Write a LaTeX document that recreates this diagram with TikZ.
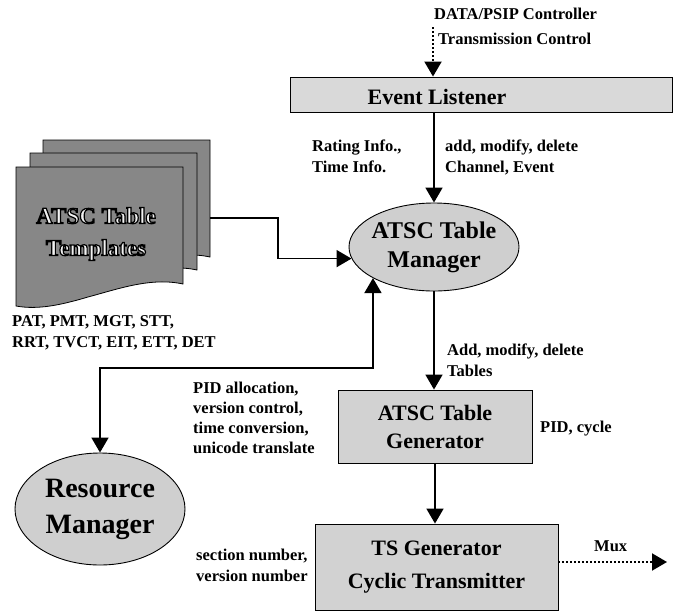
\documentclass[tikz,border=0pt]{standalone}
\usepackage{fontspec}
\setmainfont{Liberation Serif}
\usetikzlibrary{arrows.meta,shapes.geometric}
\newcommand{\mkzw}[1]{\makebox[0pt]{#1}}
\begin{document}
\begin{tikzpicture}[x=1pt,y=-1pt,
  tip/.style={-{Triangle[width=17pt,length=15pt]}},
  conn/.style={line width=1.8pt,tip},
  dotconn/.style={line width=2pt,dash pattern=on 2pt off 2pt,tip},
  lbl/.style={font=\fontsize{16.5}{21}\selectfont\bfseries,anchor=north west,inner sep=0pt,align=left},
  title/.style={font=\fontsize{22}{28}\selectfont\bfseries,inner sep=0pt,align=center},
  box/.style={draw,line width=0.9pt,fill=gray!35,inner sep=0pt,align=center,font=\fontsize{22}{28}\selectfont\bfseries},
  oval/.style={draw,line width=0.9pt,fill=gray!38,ellipse,inner sep=0pt,align=center},
  sheet/.style={draw,line width=0.8pt,fill=black!47},
]
\useasboundingbox (0,0) rectangle (675,611);

% Event Listener
\node[draw,line width=0.9pt,fill=gray!30,minimum width=382,minimum height=35,inner sep=0pt] (evl) at (481,94.5) {};
\node[title] (evltxt) at (437,97) {Event Listener};

% ATSC Table Manager
\node[oval,minimum width=170,minimum height=88,font=\fontsize{24}{29}\selectfont\bfseries] (mgr) at (434,247) {\mkzw{ATSC Table}\\\mkzw{Manager}};

% Templates stack
\foreach \d in {0,13,27} {
  \path[sheet,shift={(-\d,\d)}] (43,140) -- (210,140) -- (210,257)
    .. controls (178,250) and (145,262) .. (115,270)
    .. controls (88,278) and (65,283) .. (43,279) -- cycle;
}
\node[title,font=\fontsize{23}{32}\selectfont\bfseries] (tmpl) at (96,234)
  {{\color{gray!10}\special{pdf:literal direct 0 G 1.2 w 2 Tr}ATSC Table\special{pdf:literal direct 0 Tr}}\\{\color{gray!10}\special{pdf:literal direct 0 G 1.2 w 2 Tr}Templates\special{pdf:literal direct 0 Tr}}};
\coordinate (tout) at (210,218);
\coordinate (tbend) at (278,218);

% Generator boxes
\node[box,minimum width=194,minimum height=73] (gen) at (435,426.5) {ATSC Table\\Generator};
\node[box,minimum width=243,minimum height=86,font=\fontsize{22}{33}\selectfont\bfseries] (ts) at (436.5,567) {TS Generator\\Cyclic Transmitter};

% Resource Manager
\node[oval,minimum width=170,minimum height=112,font=\fontsize{28}{36}\selectfont\bfseries] (res) at (100,509) {Resource\\Manager};

% Labels
\node[lbl,font=\fontsize{16.5}{25}\selectfont\bfseries] (ldata) at (434,8) {DATA/PSIP Controller\\\hspace*{4pt}Transmission Control};
\node[lbl] (lrating) at (312,140) {Rating Info.,\\Time Info.};
\node[lbl] (ladd) at (445,140) {add, modify, delete\\Channel, Event};
\node[lbl] (lpat) at (12,315) {PAT, PMT, MGT, STT,\\RRT, TVCT, EIT, ETT, DET};
\node[lbl,font=\fontsize{16.5}{20}\selectfont\bfseries] (lpid) at (193,382) {PID allocation,\\version control,\\time conversion,\\unicode translate};
\node[lbl] (ltab) at (447,344) {Add, modify, delete\\Tables};
\node[lbl] (lcycle) at (540,421) {PID, cycle};
\node[lbl] (lmux) at (594,540) {Mux};
\node[lbl] (lsec) at (196,549) {section number,\\version number};

% Connectors
\coordinate (dtop) at (433,27);
\draw[dotconn] (dtop) -- (dtop |- evl.north);
\draw[conn] (mgr.north |- evl.south) -- (mgr.north);
\draw[conn] (tout) -- (tbend) |- (mgr.188);
\coordinate (c1) at (0,368);
\draw[line width=1.8pt,{Triangle[width=17pt,length=15pt]}-{Triangle[width=17pt,length=15pt]}] (mgr.207) -- (mgr.207 |- c1) -| (res.north);
\draw[conn] (mgr.south) -- (mgr.south |- gen.north);
\draw[conn] (gen.south) -- (gen.south |- ts.north);
\coordinate (muxend) at (667,562);
\draw[dotconn] (ts.east |- muxend) -- (muxend);
\end{tikzpicture}
\end{document}
